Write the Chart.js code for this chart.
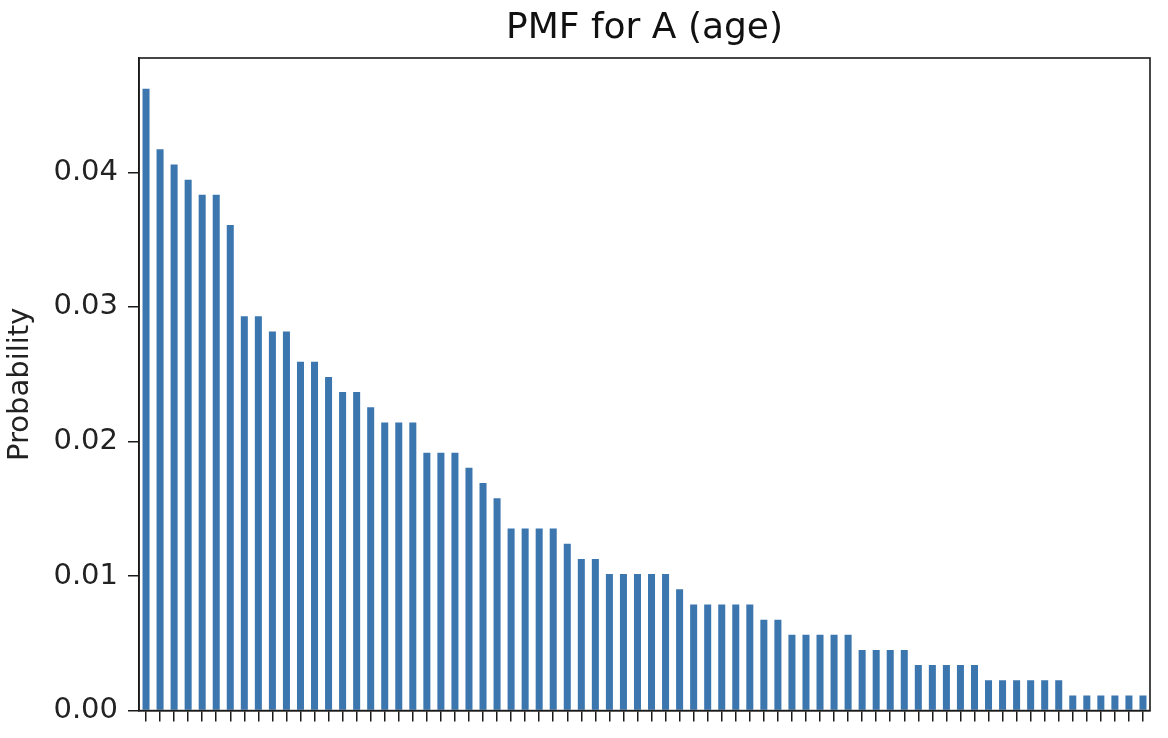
<!DOCTYPE html>
<html>
<head>
<meta charset="utf-8">
<script src="https://cdn.jsdelivr.net/npm/chart.js@4"></script>
<style>
  html, body { margin: 0; padding: 0; background: #fff; }
  #wrap { width: 1168px; height: 738px; }
</style>
</head>
<body>
<div id="wrap"><canvas id="pmfChart"></canvas></div>
<script>
// ages ranked by frequency (the tick labels are cut off in the picture)
const ranks = ['1','2','3','4','5','6','7','8','9','10','11','12','13','14','15','16','17','18',
  '19','20','21','22','23','24','25','26','27','28','29','30','31','32','33','34','35','36',
  '37','38','39','40','41','42','43','44','45','46','47','48','49','50','51','52','53','54',
  '55','56','57','58','59','60','61','62','63','64','65','66','67','68','69','70','71','72'];

const probability = [
  0.04622, 0.04171, 0.04059, 0.03946, 0.03833, 0.03833, 0.03608, 0.02931, 0.02931, 0.02818,
  0.02818, 0.02593, 0.02593, 0.02480, 0.02368, 0.02368, 0.02255, 0.02142, 0.02142, 0.02142,
  0.01917, 0.01917, 0.01917, 0.01804, 0.01691, 0.01578, 0.01353, 0.01353, 0.01353, 0.01353,
  0.01240, 0.01127, 0.01127, 0.01015, 0.01015, 0.01015, 0.01015, 0.01015, 0.00902, 0.00789,
  0.00789, 0.00789, 0.00789, 0.00789, 0.00676, 0.00676, 0.00564, 0.00564, 0.00564, 0.00564,
  0.00564, 0.00451, 0.00451, 0.00451, 0.00451, 0.00338, 0.00338, 0.00338, 0.00338, 0.00338,
  0.00225, 0.00225, 0.00225, 0.00225, 0.00225, 0.00225, 0.00113, 0.00113, 0.00113, 0.00113,
  0.00113, 0.00113
];

const yTicks = [0, 0.01, 0.02, 0.03, 0.04];
const yMax = 0.0485;

const FONT = "'DejaVu Sans', sans-serif";

// box around the plot area, like matplotlib's frame
// and center the title over the plot instead of the whole canvas
const frame = {
  id: 'frame',
  afterLayout(chart) {
    const a = chart.chartArea;
    if (chart.titleBlock) {
      chart.titleBlock.left = a.left;
      chart.titleBlock.right = a.right;
    }
  },
  afterDraw(chart) {
    const { ctx, chartArea: a } = chart;
    ctx.save();
    ctx.strokeStyle = '#1a1a1a';
    ctx.lineWidth = 1.6;
    ctx.strokeRect(a.left, a.top, a.right - a.left, a.bottom - a.top);
    ctx.restore();
  }
};

new Chart(document.getElementById('pmfChart'), {
  type: 'bar',
  data: {
    labels: ranks,
    datasets: [{
      label: 'Probability',
      data: probability,
      backgroundColor: '#3b76af',
      barPercentage: 0.5,
      categoryPercentage: 1.0
    }]
  },
  options: {
    responsive: true,
    maintainAspectRatio: false,
    animation: false,
    layout: { padding: { left: 0, right: 18, top: 0, bottom: 0 } },
    plugins: {
      legend: { display: false },
      tooltip: { enabled: false },
      title: {
        display: true,
        text: 'PMF for A (age)',
        color: '#111',
        font: { family: FONT, size: 36, weight: 'normal', lineHeight: 1.2 },
        padding: { top: 7, bottom: 7.8 }
      }
    },
    scales: {
      x: {
        offset: true,
        grid: {
          offset: false,
          drawOnChartArea: false,
          drawTicks: true,
          tickLength: 11,
          color: '#1a1a1a',
          lineWidth: 1.5
        },
        border: { display: true, color: '#1a1a1a', width: 1.6 },
        ticks: { display: false, autoSkip: false },
        afterFit(scale) { scale.height = 24; }
      },
      y: {
        min: 0,
        max: yMax,
        afterBuildTicks(scale) {
          scale.ticks = yTicks.map(v => ({ value: v }));
        },
        grid: {
          drawOnChartArea: false,
          drawTicks: true,
          tickLength: 11,
          color: '#1a1a1a',
          lineWidth: 1.5
        },
        border: { display: true, color: '#1a1a1a', width: 1.6 },
        ticks: {
          color: '#222',
          padding: 10,
          font: { family: FONT, size: 29 },
          callback: v => Number(v).toFixed(2)
        },
        title: {
          display: true,
          text: 'Probability',
          color: '#222',
          font: { family: FONT, size: 29 },
          padding: { top: 3, bottom: 0 }
        },
        afterFit(scale) { scale.width = 139; }
      }
    }
  },
  plugins: [frame]
});
</script>
</body>
</html>
